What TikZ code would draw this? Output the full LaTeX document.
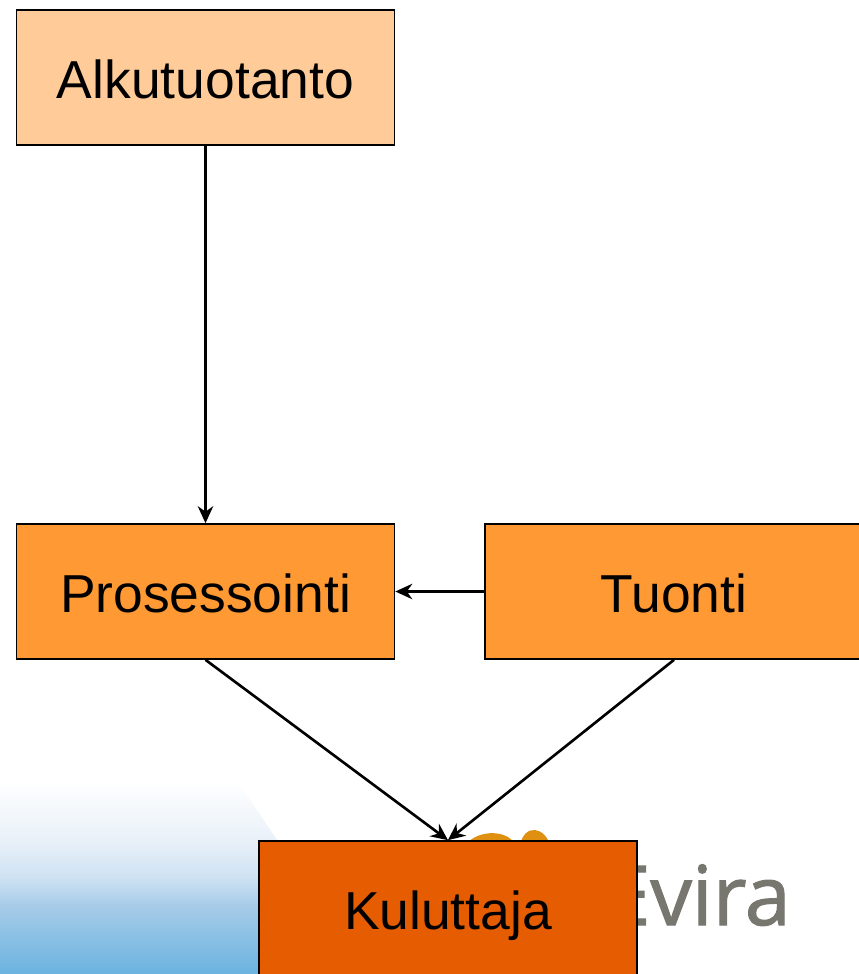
\documentclass[tikz,border=0pt]{standalone}
\usepackage{fontspec}
\setmainfont{Liberation Sans}
\newfontfamily\logofont[FakeBold=1.4]{Open Sans}
\usetikzlibrary{arrows.meta}
\usetikzlibrary{calc}
\definecolor{paleorange}{HTML}{FFCC99}
\definecolor{midorange}{HTML}{FF9933}
\definecolor{darkorange}{HTML}{E65C00}
\definecolor{logoorange}{HTML}{E09010}
\definecolor{logogray}{HTML}{77776F}
\definecolor{skyblue}{HTML}{6BB3E0}
\definecolor{lowblue}{HTML}{88BFE4}
\definecolor{midblue}{HTML}{A8CCE8}
\definecolor{paleblue}{HTML}{CFE2F3}
\definecolor{fadeblue}{HTML}{E9F1F8}
\pgfdeclareverticalshading{backdropfade}{100bp}{color(0bp)=(skyblue); color(25bp)=(skyblue); color(33.8bp)=(lowblue); color(42.8bp)=(midblue); color(50bp)=(paleblue); color(59.5bp)=(fadeblue); color(75bp)=(white); color(100bp)=(white)}
\begin{document}
\begin{tikzpicture}[->,>={Stealth[length=0.34cm,width=0.31cm]},line width=1.2pt,node distance=10.28cm,
					font=\fontsize{30.4}{36}\selectfont]
					\tikzstyle{every state}=[shape=rectangle,draw,line width=0.95pt,minimum width=7.56cm,minimum height=2.7cm,inner sep=0pt,text height=0.92cm,text depth=0.1cm]
					\tikzset{statebox/.style={every state},slantlink/.style={line width=1.5pt}}
					
					\useasboundingbox (0,0) rectangle (17.18,-19.48);
					
					% backdrop
					\path[-,shading=backdropfade,draw=none] (0,-15.6) -- (4.75,-15.6)
					.. controls (4.95,-15.95) and (5.25,-16.35) .. (5.54,-16.8) -- (5.6,-19.48) -- (0,-19.48) -- cycle;
					\path[-,fill=logoorange,draw=none] (9.3,-16.9) .. controls (9.6,-16.55) and (10.2,-16.62) .. (10.3,-16.9) -- cycle;
					\path[-,fill=logoorange,draw=none] (10.4,-16.9) .. controls (10.5,-16.45) and (10.9,-16.55) .. (11,-16.9) -- cycle;
					\node[anchor=base west,text=logogray,inner sep=0pt,font=\logofont\fontsize{47}{54}\selectfont] (logo) at (12.07,-18.5) {Evira};
					
					\node[statebox,fill=paleorange] (alku) at (4.11,-1.55) {Alkutuotanto};
					\node[statebox,fill=midorange] (pros) [below of=alku] {Prosessointi};
					\node[statebox,fill=midorange] (tuonti) [right of=pros,node distance=9.37cm] {Tuonti};
					\node[statebox,fill=darkorange] (kulu) at (8.96,-18.17) {Kuluttaja};
					
					\path (alku) edge (pros)
					(tuonti) edge (pros)
					(pros.south) edge [slantlink] (kulu.north)
					(tuonti.south) edge [slantlink] (kulu.north)
					;
\end{tikzpicture}
\end{document}
